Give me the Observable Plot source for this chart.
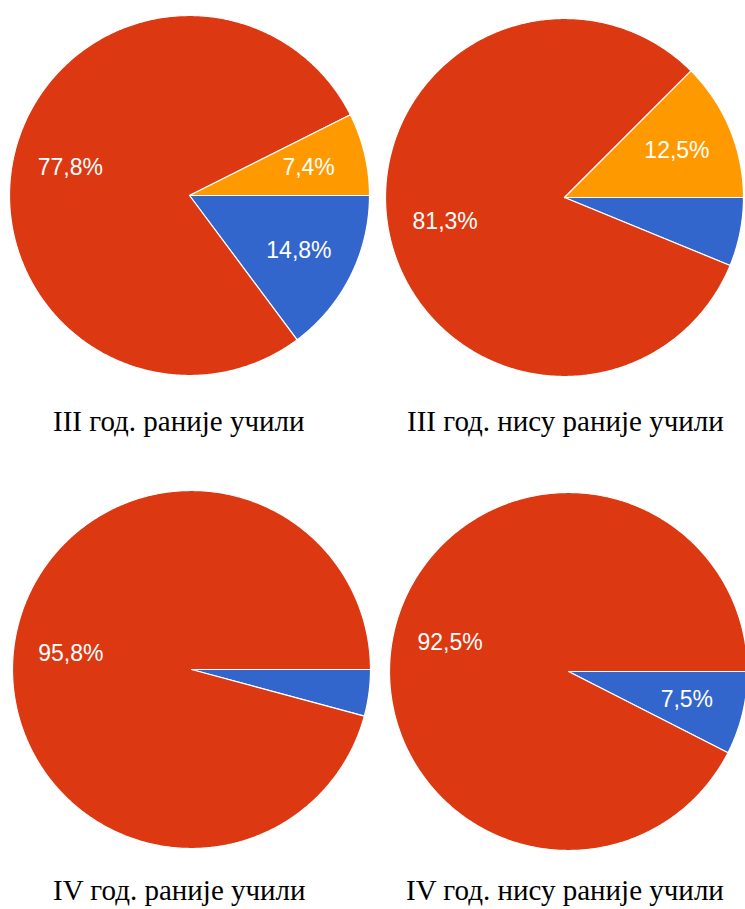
<!DOCTYPE html>
<html><head><meta charset="utf-8">
<script src="https://cdn.jsdelivr.net/npm/d3@7"></script>
<script src="https://cdn.jsdelivr.net/npm/@observablehq/plot@0.6"></script>
<style>
html,body{margin:0;padding:0;background:#fff;}
#wrap{position:relative;width:745px;height:909px;overflow:hidden;background:#fff;}
.pie{position:absolute;}
.cap{position:absolute;font-family:"Liberation Serif","Times New Roman",serif;font-size:29px;line-height:29px;color:#000;white-space:nowrap;}
</style></head><body><div id="wrap"></div>
<script>
// ---- data ----
const categories = ["A", "B", "C"];
const captions = ["III год. раније учили", "III год. нису раније учили", "IV год. раније учили", "IV год. нису раније учили"];
const seriesA = [14.8, 6.2, 4.2, 7.5];   // blue
const seriesB = [77.8, 81.3, 95.8, 92.5]; // red
const seriesC = [7.4, 12.5, 0, 0];      // orange

// ---- styles / layout ----
const colors = ["#3366cc", "#dc3912", "#ff9900"];
const layout = [
  {cx: 189, cy: 195, r: 180, capX: 53, capBase: 431},
  {cx: 564, cy: 197, r: 179, capX: 407, capBase: 431},
  {cx: 191, cy: 669, r: 179, capX: 53, capBase: 900},
  {cx: 568, cy: 671, r: 179, capX: 406, capBase: 900}
];
const M = 4;
const fmt = v => v.toFixed(1).replace(".", ",") + "%";
const wrap = document.getElementById("wrap");

captions.forEach((cap, i) => {
  const L = layout[i];
  const vals = [seriesA[i], seriesB[i], seriesC[i]];
  const total = d3.sum(vals);
  let acc = 0;
  const poly = [], labels = [];
  vals.forEach((v, k) => {
    if (v <= 0) return;
    const a0 = acc / total * 2 * Math.PI; acc += v;
    const a1 = acc / total * 2 * Math.PI;
    const cat = categories[k];
    poly.push({cat, px: 0, py: 0});
    const n = Math.max(2, Math.ceil((a1 - a0) / (Math.PI / 360)));
    for (let j = 0; j <= n; j++) {
      const a = a0 + (a1 - a0) * j / n;
      poly.push({cat, px: Math.cos(a), py: -Math.sin(a)});
    }
    poly.push({cat, px: 0, py: 0});
    if (v / total >= 0.07) {
      const am = (a0 + a1) / 2;
      labels.push({cat, px: 0.68 * Math.cos(am), py: -0.68 * Math.sin(am), text: fmt(v)});
    }
  });
  const size = 2 * L.r + 2 * M;
  const chart = Plot.plot({
    width: size, height: size, margin: M,
    style: {background: "transparent", overflow: "visible"},
    x: {domain: [-1, 1], axis: null},
    y: {domain: [-1, 1], axis: null},
    color: {domain: categories, range: colors},
    marks: [
      Plot.line(poly, {x: "px", y: "py", z: "cat", fill: "cat", stroke: "white", strokeWidth: 1.2, curve: "linear"}),
      Plot.text(labels, {x: "px", y: "py", text: "text", fill: "white", fontSize: 23, fontFamily: "'Liberation Sans', Arial, sans-serif"})
    ]
  });
  chart.classList.add("pie");
  chart.style.left = (L.cx - L.r - M) + "px";
  chart.style.top = (L.cy - L.r - M) + "px";
  wrap.appendChild(chart);

  const d = document.createElement("div");
  d.className = "cap";
  d.textContent = cap;
  d.style.left = L.capX + "px";
  d.style.top = (L.capBase - 24.3) + "px";
  wrap.appendChild(d);
});
</script>
</body></html>
